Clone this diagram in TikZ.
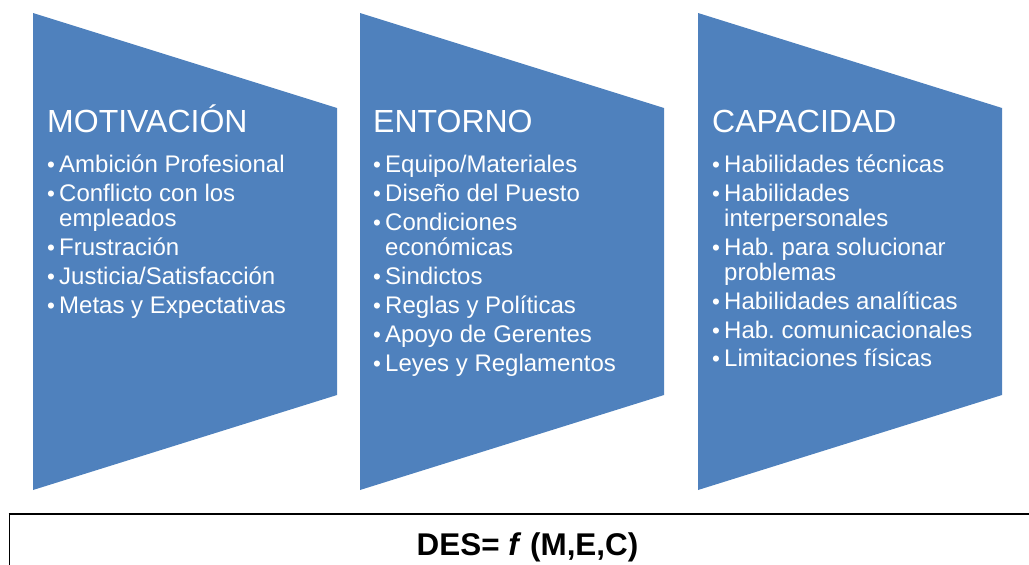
\documentclass[tikz,border=0pt]{standalone}
\usepackage{fontspec}
\setmainfont{Liberation Sans}
\definecolor{fillblue}{HTML}{4F81BD}
\tikzset{
  x=1pt,y=-1pt,
  pane/.style={fill=fillblue,draw=none},
  headtxt/.style={anchor=base west,text=white,font=\fontsize{32}{32}\selectfont,inner sep=0pt},
  itemtxt/.style={anchor=base west,text=white,font=\frenchspacing\fontsize{24}{24}\selectfont,inner sep=0pt},
  bul/.style={anchor=base west,text=white,font=\fontsize{22.5}{22.5}\selectfont,inner sep=0pt},
  topline/.style={draw=black,line width=2pt},
  sideline/.style={draw=black,line width=1pt}
}
\newcommand{\itm}[4]{%
  \node[bul] (#4b) at (#1,#2) {•};
  \node[itemtxt] (#4) at (#1+12,#2) {#3};}
\newcommand{\itmc}[4]{%
  \node[itemtxt] (#4) at (#1+12,#2) {#3};}
\begin{document}
\begin{tikzpicture}
\useasboundingbox (0,0) rectangle (1029,565);
\path[pane] (33,13)--(337,108)--(337,395)--(33,490)--cycle;
\path[pane] (360,13)--(664,108)--(664,395)--(360,490)--cycle;
\path[pane] (698,13)--(1002,108)--(1002,395)--(698,490)--cycle;
\node[headtxt] (h1) at (47,132.5) {MOTIVACIÓN};
\node[headtxt] (h2) at (373,132.5) {ENTORNO};
\node[headtxt] (h3) at (712,132.5) {CAPACIDAD};
\itm{47}{172}{Ambición Profesional}{a1}
\itm{47}{201}{Conflicto con los}{a2}
\itmc{47}{226}{empleados}{a3}
\itm{47}{255}{Frustración}{a4}
\itm{47}{284}{Justicia/Satisfacción}{a5}
\itm{47}{313}{Metas y Expectativas}{a6}
\itm{373}{172}{Equipo/Materiales}{b1}
\itm{373}{201}{Diseño del Puesto}{b2}
\itm{373}{230}{Condiciones}{b3}
\itmc{373}{255}{económicas}{b4}
\itm{373}{284}{Sindictos}{b5}
\itm{373}{313}{Reglas y Políticas}{b6}
\itm{373}{342}{Apoyo de Gerentes}{b7}
\itm{373}{371}{Leyes y Reglamentos}{b8}
\itm{712}{172}{Habilidades técnicas}{c1}
\itm{712}{201}{Habilidades}{c2}
\itmc{712}{226}{interpersonales}{c3}
\itm{712}{255}{Hab. para solucionar}{c4}
\itmc{712}{280}{problemas}{c5}
\itm{712}{309}{Habilidades analíticas}{c6}
\itm{712}{338}{Hab. comunicacionales}{c7}
\itm{712}{366}{Limitaciones físicas}{c8}
\draw[sideline] (9,565)--(9,513);
\draw[topline] (8.5,513.5)--(1029,513.5);
\node[anchor=base,inner sep=0pt,font=\fontsize{31.4}{31.4}\selectfont\bfseries] (f) at (527.5,555) {DES= \textit{f} (M,E,C)};
\end{tikzpicture}
\end{document}
